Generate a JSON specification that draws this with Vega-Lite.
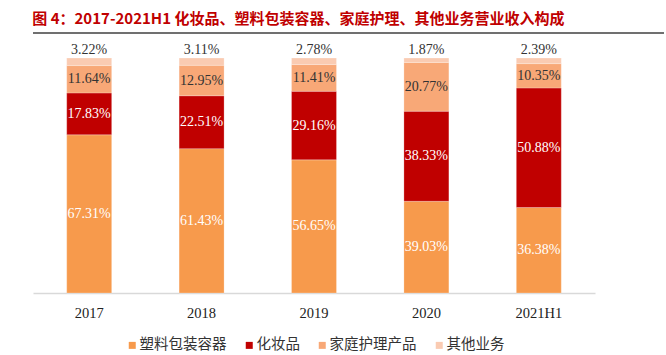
{
  "$schema": "https://vega.github.io/schema/vega-lite/v6.json",
  "padding": {"left": 16, "top": 12, "right": 0, "bottom": 0},
  "background": "white",
  "config": {"view": {"stroke": null}, "concat": {"spacing": 9}},
  "data": {"values": [
    {"year": "2017", "cat": "塑料包装容器", "k": 1, "v": 0.6731},
    {"year": "2017", "cat": "化妆品", "k": 2, "v": 0.1783},
    {"year": "2017", "cat": "家庭护理产品", "k": 3, "v": 0.1164},
    {"year": "2017", "cat": "其他业务", "k": 4, "v": 0.0322},
    {"year": "2018", "cat": "塑料包装容器", "k": 1, "v": 0.6143},
    {"year": "2018", "cat": "化妆品", "k": 2, "v": 0.2251},
    {"year": "2018", "cat": "家庭护理产品", "k": 3, "v": 0.1295},
    {"year": "2018", "cat": "其他业务", "k": 4, "v": 0.0311},
    {"year": "2019", "cat": "塑料包装容器", "k": 1, "v": 0.5665},
    {"year": "2019", "cat": "化妆品", "k": 2, "v": 0.2916},
    {"year": "2019", "cat": "家庭护理产品", "k": 3, "v": 0.1141},
    {"year": "2019", "cat": "其他业务", "k": 4, "v": 0.0278},
    {"year": "2020", "cat": "塑料包装容器", "k": 1, "v": 0.3903},
    {"year": "2020", "cat": "化妆品", "k": 2, "v": 0.3833},
    {"year": "2020", "cat": "家庭护理产品", "k": 3, "v": 0.2077},
    {"year": "2020", "cat": "其他业务", "k": 4, "v": 0.0187},
    {"year": "2021H1", "cat": "塑料包装容器", "k": 1, "v": 0.3638},
    {"year": "2021H1", "cat": "化妆品", "k": 2, "v": 0.5088},
    {"year": "2021H1", "cat": "家庭护理产品", "k": 3, "v": 0.1035},
    {"year": "2021H1", "cat": "其他业务", "k": 4, "v": 0.0239}
  ]},
  "vconcat": [
    {
      "width": 631,
      "height": 1,
      "title": {"text": "图 4：2017-2021H1 化妆品、塑料包装容器、家庭护理、其他业务营业收入构成", "anchor": "start", "font": "Noto Sans CJK SC", "fontSize": 15, "fontWeight": "bold", "color": "#C00000", "offset": 5},
      "data": {"values": [{"a": 1}]},
      "mark": {"type": "rule", "color": "#404040", "strokeWidth": 1.5},
      "encoding": {"y": {"datum": 0, "type": "quantitative", "scale": {"domain": [0, 1]}, "axis": null}}
    },
    {
      "width": 562,
      "height": 235,
      "encoding": {
        "x": {"field": "year", "type": "nominal", "sort": null,
          "scale": {"paddingInner": 0.6, "paddingOuter": 0.3},
          "axis": {"title": null, "labelAngle": 0, "ticks": false, "domainColor": "#D9D9D9", "domainWidth": 1.5,
            "labelFont": "Liberation Serif", "labelFontSize": 14.5, "labelColor": "#222222", "labelPadding": 13}}
      },
      "layer": [
        {
          "mark": {"type": "bar", "stroke": "white", "strokeWidth": 0.4, "strokeOpacity": 0.6},
          "encoding": {
            "y": {"field": "v", "type": "quantitative", "stack": "zero", "scale": {"domain": [0, 1]},
              "axis": {"labels": false, "ticks": false, "domain": false, "grid": false, "title": null, "minExtent": 17, "maxExtent": 17}},
            "order": {"field": "k", "type": "quantitative"},
            "color": {"field": "cat", "type": "nominal",
              "scale": {"domain": ["塑料包装容器", "化妆品", "家庭护理产品", "其他业务"], "range": ["#F79A4C", "#C00000", "#F8A877", "#FACBB2"]},
              "legend": {"title": null, "orient": "none", "legendX": 92, "legendY": 306, "padding": 0, "direction": "horizontal", "symbolType": "square", "symbolSize": 49, "symbolStrokeWidth": 0,
                "labelFont": "Noto Sans CJK SC", "labelFontSize": 14.5, "labelColor": "#333333", "labelOffset": 0, "columnPadding": 15}}
          }
        },
        {
          "transform": [{"filter": "datum.k < 4"}],
          "mark": {"type": "text", "font": "Liberation Serif", "fontSize": 14},
          "encoding": {
            "y": {"field": "v", "type": "quantitative", "stack": "zero", "bandPosition": 0.5},
            "order": {"field": "k", "type": "quantitative"},
            "text": {"field": "v", "type": "quantitative", "format": ".2%"},
            "color": {"condition": {"test": "datum.k <= 2", "value": "#FFFFFF"}, "value": "#333333"}
          }
        },
        {
          "transform": [{"filter": "datum.k == 4"}],
          "mark": {"type": "text", "font": "Liberation Serif", "fontSize": 14, "baseline": "bottom", "dy": -1, "color": "#333333"},
          "encoding": {
            "y": {"datum": 1, "type": "quantitative"},
            "text": {"field": "v", "type": "quantitative", "format": ".2%"}
          }
        }
      ]
    }
  ]
}
